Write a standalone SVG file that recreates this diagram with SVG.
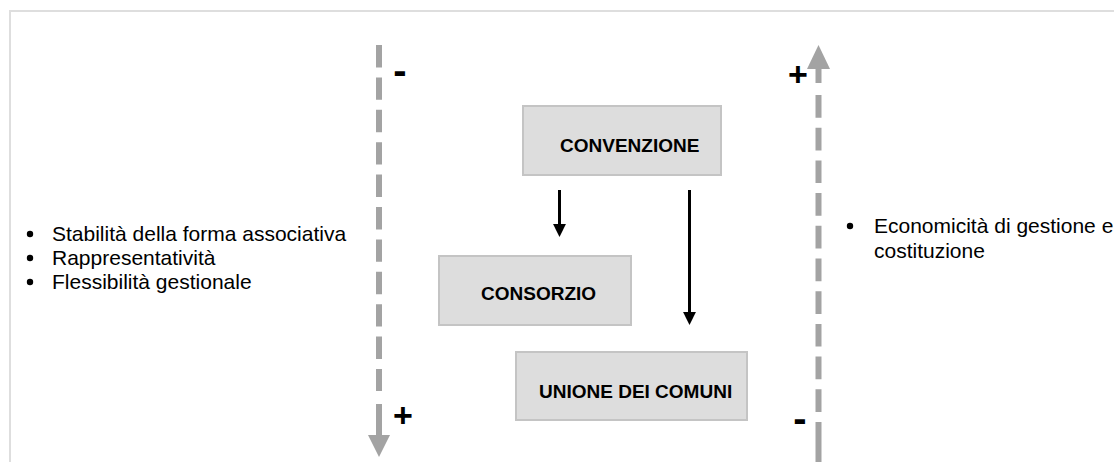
<svg xmlns="http://www.w3.org/2000/svg" width="1114" height="462" viewBox="0 0 1114 462">
  <style>
    .frame { fill: none; stroke: #dedede; stroke-width: 2; }
    .axis { stroke: #a3a3a3; stroke-width: 6; fill: none; }
    .axis-head { fill: #a3a3a3; }
    .box rect { fill: #dddddd; stroke: #c4c4c4; stroke-width: 2; }
    .box text { font-family: "Liberation Sans", Arial, sans-serif; font-weight: bold; font-size: 19px; fill: #000; }
    .sign { font-family: "Liberation Sans", Arial, sans-serif; font-weight: bold; fill: #000; text-anchor: middle; }
    .note { font-family: "Liberation Sans", Arial, sans-serif; font-size: 21px; fill: #000; }
    .link { stroke: #000; stroke-width: 3; fill: none; }
  </style>
  <defs>
    <marker id="head" viewBox="0 0 10 10" refX="0" refY="5" markerWidth="4.3" markerHeight="5" markerUnits="strokeWidth" orient="auto">
      <path d="M0,0 L10,5 L0,10 Z" fill="#000"/>
    </marker>
  </defs>

  <rect width="1114" height="462" fill="#ffffff"/>
  <!-- outer frame (top and left edges) -->
  <path class="frame" d="M10,462 V11 H1114"/>

  <!-- left scale: from "-" at top to "+" at bottom -->
  <g id="scale-left">
    <line class="axis" x1="379" y1="45" x2="379" y2="391" stroke-dasharray="22.4 10"/>
    <line class="axis" x1="379" y1="404" x2="379" y2="436"/>
    <polygon class="axis-head" points="368,435 390,435 379,457"/>
    <text class="sign" x="400" y="84" font-size="40">-</text>
    <text class="sign" x="403" y="427" font-size="34">+</text>
  </g>

  <!-- right scale: from "-" at bottom to "+" at top -->
  <g id="scale-right">
    <polygon class="axis-head" points="807,69 830,69 818.5,45"/>
    <line class="axis" x1="818.5" y1="68" x2="818.5" y2="83"/>
    <line class="axis" x1="818.5" y1="95" x2="818.5" y2="412" stroke-dasharray="22.7 10"/>
    <line class="axis" x1="818.5" y1="422" x2="818.5" y2="462"/>
    <text class="sign" x="798" y="86" font-size="34">+</text>
    <text class="sign" x="800" y="432" font-size="40">-</text>
  </g>

  <!-- forms of association -->
  <g id="node-convenzione" class="box">
    <rect x="523" y="106" width="198" height="69"/>
    <text x="560" y="152">CONVENZIONE</text>
  </g>
  <g id="node-consorzio" class="box">
    <rect x="439" y="256" width="192" height="69"/>
    <text x="481" y="300">CONSORZIO</text>
  </g>
  <g id="node-unione" class="box">
    <rect x="516" y="352" width="231" height="68"/>
    <text x="539" y="398">UNIONE DEI COMUNI</text>
  </g>

  <!-- connectors -->
  <g id="connectors">
    <line class="link" x1="559.5" y1="190" x2="559.5" y2="224" marker-end="url(#head)"/>
    <line class="link" x1="689.5" y1="190" x2="689.5" y2="312" marker-end="url(#head)"/>
  </g>

  <!-- qualities listed on the left -->
  <g id="notes-left" class="note">
    <circle cx="30" cy="234" r="3.2"/>
    <circle cx="30" cy="258" r="3.2"/>
    <circle cx="30" cy="282" r="3.2"/>
    <text x="52" y="241">Stabilità della forma associativa</text>
    <text x="52" y="265">Rappresentatività</text>
    <text x="52" y="289">Flessibilità gestionale</text>
  </g>

  <!-- qualities listed on the right -->
  <g id="notes-right" class="note">
    <circle cx="850" cy="226" r="3.2"/>
    <text x="874" y="233">Economicità di gestione e</text>
    <text x="874" y="258">costituzione</text>
  </g>
</svg>
